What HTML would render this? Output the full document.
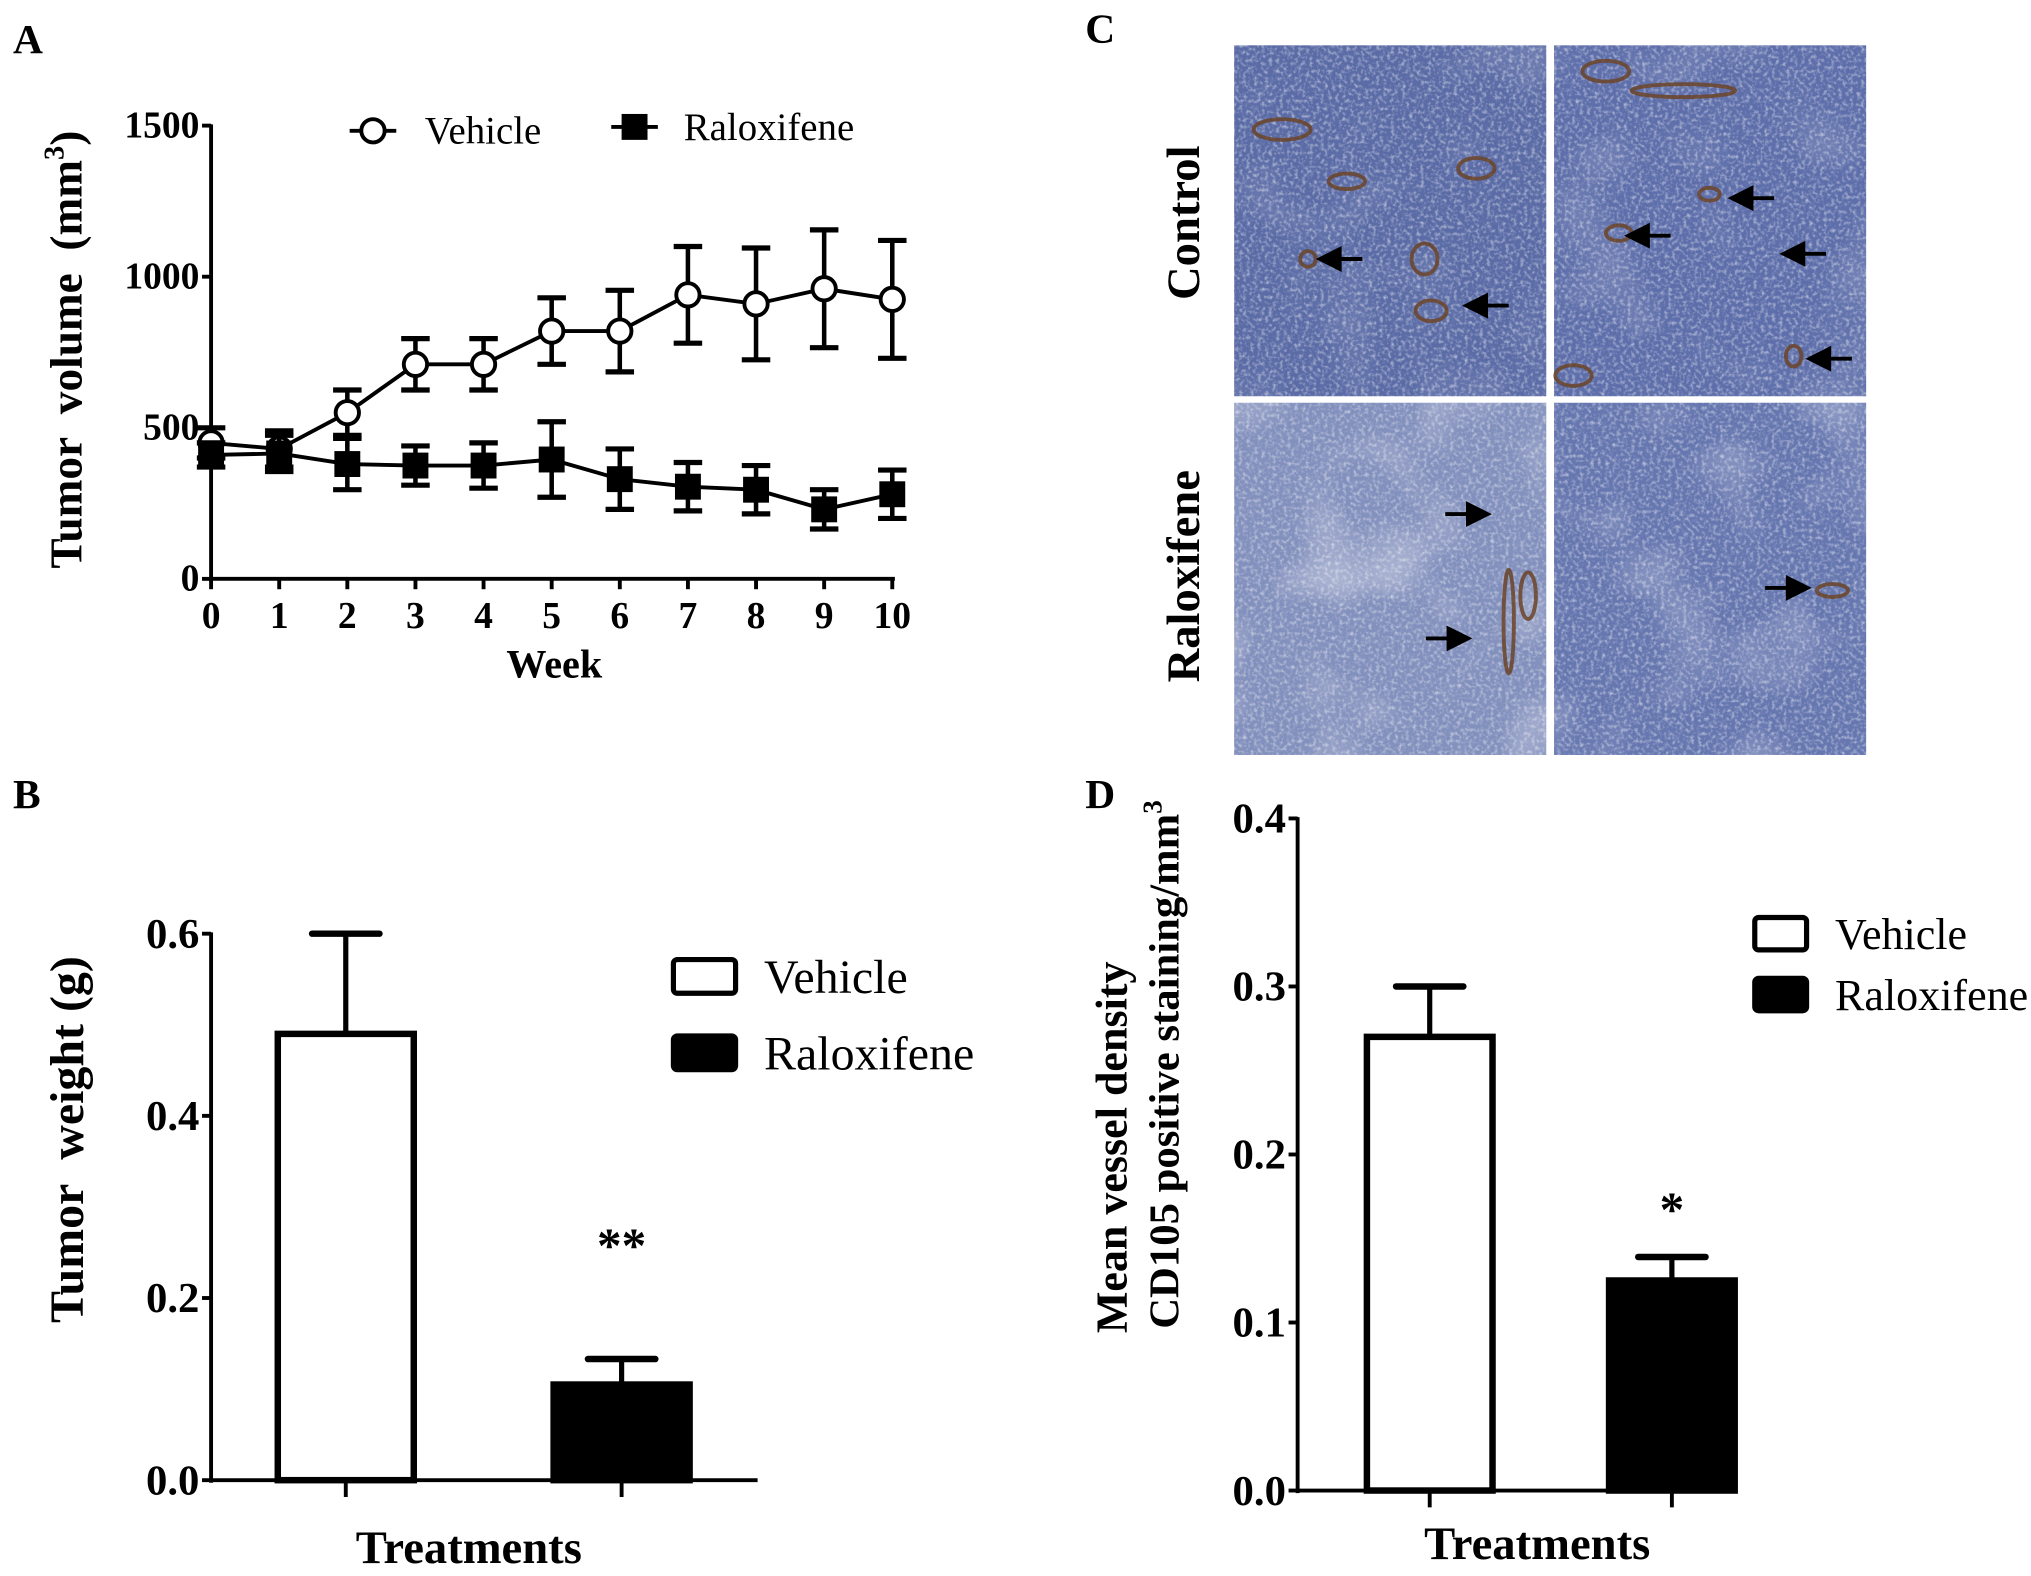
<!DOCTYPE html>
<html><head><meta charset="utf-8"><style>
html,body{margin:0;padding:0;background:#fff;}
svg{display:block;}
text{font-family:"Liberation Serif",serif;}
</style></head><body>
<svg id="fig" width="2031" height="1576" viewBox="0 0 1568.3 1217" preserveAspectRatio="none" xmlns="http://www.w3.org/2000/svg">
<defs>
<filter id="tex" x="0" y="0" width="100%" height="100%">
<feTurbulence type="fractalNoise" baseFrequency="0.35" numOctaves="2" seed="3" result="n"/>
<feColorMatrix in="n" type="matrix" values="0 0 0 0 0.9  0 0 0 0 0.9  0 0 0 0 0.94  2.2 0 0 0 -1.0"/>
</filter>
<filter id="blot" x="0" y="0" width="100%" height="100%">
<feTurbulence type="fractalNoise" baseFrequency="0.015" numOctaves="2" seed="8" result="n"/>
<feColorMatrix in="n" type="matrix" values="0 0 0 0 0.9  0 0 0 0 0.9  0 0 0 0 0.93  3 0 0 0 -1.5"/>
</filter>
</defs>

<text x="10" y="41" font-size="32" font-weight="bold">A</text>
<text x="10" y="624" font-size="32" font-weight="bold">B</text>
<text x="838" y="33" font-size="32" font-weight="bold">C</text>
<text x="838" y="624" font-size="32" font-weight="bold">D</text>

<g id="panelA"></g>
<g id="panelB"></g>
<g id="panelC"></g>
<g id="panelD"></g>
</svg>
<script>
const weeks = [0,1,2,3,4,5,6,7,8,9,10];
const vehicleVol = [450,430,550,710,710,820,820,940,910,960,925];
const vehicleErr = [50,60,75,85,85,110,135,160,185,195,195];
const raloxVol = [410,415,380,375,375,395,330,305,295,230,280];
const raloxErr = [40,60,85,65,75,125,100,80,80,65,80];
const aYTicks = [0,500,1000,1500];

const bCategories = ["Vehicle","Raloxifene"];
const bValues = [0.49,0.105];
const bErrors = [0.11,0.028];
const bYTicks = ["0.0","0.2","0.4","0.6"];

const dCategories = ["Vehicle","Raloxifene"];
const dValues = [0.27,0.125];
const dErrors = [0.03,0.014];
const dYTicks = ["0.0","0.1","0.2","0.3","0.4"];

const NS="http://www.w3.org/2000/svg";
function mk(parent,tag,attrs,txt){const e=document.createElementNS(NS,tag);for(const k in attrs)e.setAttribute(k,attrs[k]);if(txt!==undefined)e.textContent=txt;parent.appendChild(e);return e;}

(function(){
 const g=document.getElementById('panelA');
 const x0=163,x1=689,y0=447,y1=97;
 const xs=w=>x0+(x1-x0)*w/10;
 const ys=v=>y0-(y0-y1)*v/1500;
 let e;
 e=mk(g,'line',{x1:x0,y1:y1-1,x2:x0,y2:y0+2,stroke:'#000','stroke-width':3});
 
 e=mk(g,'line',{x1:x0-1,y1:y0,x2:x1+2,y2:y0,stroke:'#000','stroke-width':3});
 
 aYTicks.forEach(t=>{
  mk(g,'line',{x1:x0-7,y1:ys(t),x2:x0,y2:ys(t),stroke:'#000','stroke-width':3});
  e=mk(g,'text',{x:x0-9,y:ys(t)+9,'font-size':29,'font-weight':'bold','text-anchor':'end'},String(t));
  
 });
 weeks.forEach(w=>{
  mk(g,'line',{x1:xs(w),y1:y0,x2:xs(w),y2:y0+8,stroke:'#000','stroke-width':3});
  e=mk(g,'text',{x:xs(w),y:y0+38,'font-size':29,'font-weight':'bold','text-anchor':'middle'},String(w));
  
 });
 e=mk(g,'text',{x:428,y:523,'font-size':31,'font-weight':'bold','text-anchor':'middle'},'Week');
 
 e=mk(g,'text',{x:0,y:0,'font-size':35,'font-weight':'bold','text-anchor':'middle',transform:'translate(63,270) rotate(-90)'});
 
 e.innerHTML='Tumor&#160; volume&#160; (mm<tspan dy="-14" font-size="22">3</tspan><tspan dy="14">)</tspan>';
 function series(vals,errs,name,filled){
  const sg=mk(g,'g',{});
  
  mk(sg,'polyline',{points:weeks.map((w,i)=>xs(w)+','+ys(vals[i])).join(' '),fill:'none',stroke:'#000','stroke-width':3});
  weeks.forEach((w,i)=>{
   const x=xs(w),yt=ys(vals[i]+errs[i]),yb=ys(vals[i]-errs[i]);
   mk(sg,'line',{x1:x,y1:yt,x2:x,y2:yb,stroke:'#000','stroke-width':3.5});
   mk(sg,'line',{x1:x-11,y1:yt,x2:x+11,y2:yt,stroke:'#000','stroke-width':4});
   mk(sg,'line',{x1:x-11,y1:yb,x2:x+11,y2:yb,stroke:'#000','stroke-width':4});
   let m;
   if(filled){m=mk(sg,'rect',{x:x-10,y:ys(vals[i])-10,width:20,height:20,fill:'#000'});}
   else{m=mk(sg,'circle',{cx:x,cy:ys(vals[i]),r:9,fill:'#fff',stroke:'#000','stroke-width':3});}
   
  });
 }
 series(vehicleVol,vehicleErr,'vehicle-series',false);
 series(raloxVol,raloxErr,'raloxifene-series',true);
 const lg=mk(g,'g',{});
 mk(lg,'line',{x1:270,y1:101,x2:306,y2:101,stroke:'#000','stroke-width':3});
 mk(lg,'circle',{cx:288,cy:101,r:9,fill:'#fff',stroke:'#000','stroke-width':3});
 mk(lg,'text',{x:328,y:111,'font-size':30},'Vehicle');
 mk(lg,'line',{x1:472,y1:98,x2:508,y2:98,stroke:'#000','stroke-width':3});
 mk(lg,'rect',{x:480,y:88,width:20,height:20,fill:'#000'});
 mk(lg,'text',{x:528,y:108,'font-size':30},'Raloxifene');
})();

function barChart(id,cfg,cats,vals,errs,ticks,pfx){
 const g=document.getElementById(id);
 const ys=v=>cfg.y0-(cfg.y0-cfg.yTop)*v/cfg.vmax;
 let e;
 e=mk(g,'line',{x1:cfg.x0,y1:cfg.yTop-1,x2:cfg.x0,y2:cfg.y0+2,stroke:'#000','stroke-width':3});
 
 e=mk(g,'line',{x1:cfg.x0-1,y1:cfg.y0,x2:cfg.xEnd,y2:cfg.y0,stroke:'#000','stroke-width':3});
 
 ticks.forEach(t=>{
  const y=ys(parseFloat(t));
  mk(g,'line',{x1:cfg.x0-7,y1:y,x2:cfg.x0,y2:y,stroke:'#000','stroke-width':3});
  e=mk(g,'text',{x:cfg.x0-9,y:y+11,'font-size':33,'font-weight':'bold','text-anchor':'end'},t);
  
 });
 cats.forEach((c,i)=>{
  const cx=cfg.centers[i],w=cfg.bw,v=vals[i];
  mk(g,'line',{x1:cx,y1:cfg.y0,x2:cx,y2:cfg.y0+13,stroke:'#000','stroke-width':3});
  const yt=ys(v+errs[i]);
  e=mk(g,'line',{x1:cx,y1:ys(v),x2:cx,y2:yt,stroke:'#000','stroke-width':4});
  
  mk(g,'line',{x1:cx-26,y1:yt,x2:cx+26,y2:yt,stroke:'#000','stroke-width':5,'stroke-linecap':'round'});
  e=mk(g,'rect',{x:cx-w/2,y:ys(v),width:w,height:cfg.y0-ys(v),fill:i===0?'#fff':'#000',stroke:'#000','stroke-width':5});
  
 });
 e=mk(g,'text',{x:cfg.centers[1]+cfg.starDx,y:ys(vals[1]+errs[1])-cfg.starGap,'font-size':38,'font-weight':'bold','text-anchor':'middle'},cfg.star);
 
 e=mk(g,'text',{x:cfg.titleX,y:cfg.titleY,'font-size':36,'font-weight':'bold','text-anchor':'middle'},'Treatments');
 
 const lg=mk(g,'g',{});
 cats.forEach((c,i)=>{
  const ly=cfg.legY+i*cfg.legDy;
  mk(lg,'rect',{x:cfg.legX,y:ly-cfg.boxH/2,width:cfg.boxW,height:cfg.boxH,rx:3,fill:i===0?'#fff':'#000',stroke:'#000','stroke-width':4});
  const t=mk(lg,'text',{x:cfg.legX+cfg.boxW+22,y:ly+cfg.legFs*0.35,'font-size':cfg.legFs},c);
  
 });
}
barChart('panelB',{x0:163,y0:1143,yTop:721,vmax:0.6,xEnd:585,centers:[267,480],bw:105,star:'**',starDx:0,starGap:75,
 titleX:362,titleY:1207,legX:520,legY:754,legDy:59,boxW:48,boxH:26,legFs:37},bCategories,bValues,bErrors,bYTicks,'b');
(function(){const g=document.getElementById('panelB');const e=mk(g,'text',{x:0,y:0,'font-size':37,'font-weight':'bold','text-anchor':'middle',transform:'translate(64,880) rotate(-90)'},'Tumor\u00a0 weight (g)');
 })();

barChart('panelD',{x0:1002,y0:1151,yTop:632,vmax:0.4,xEnd:1310,centers:[1104,1291],bw:97,star:'*',starDx:0,starGap:24,
 titleX:1187,titleY:1204,legX:1355,legY:721,legDy:47,boxW:40,boxH:25,legFs:34},dCategories,dValues,dErrors,dYTicks,'d');
(function(){const g=document.getElementById('panelD');
 let e=mk(g,'text',{x:0,y:0,'font-size':34,'font-weight':'bold','text-anchor':'middle',transform:'translate(870,886) rotate(-90)'},'Mean vessel density');
 
 e=mk(g,'text',{x:0,y:0,'font-size':33,'font-weight':'bold','text-anchor':'middle',transform:'translate(910,822) rotate(-90)'});
 e.innerHTML='CD105 positive staining/mm<tspan dy="-13" font-size="21">3</tspan>';
 })();

(function(){
 const g=document.getElementById('panelC');
 const tiles=[
  {x:953,y:35,base:'#5a6ba6',name:'control-image-1',light:0.15,blobs:[[990,100,22,8],[1040,140,14,6],[1100,200,10,12],[1105,240,12,8],[1140,130,14,8],[1010,200,6,6]],arrows:[[1020,200,'l'],[1133,236,'l']]},
  {x:1200,y:35,base:'#5d6eaa',name:'control-image-2',light:0.15,blobs:[[1240,55,18,8],[1300,70,40,5],[1250,180,10,6],[1320,150,8,5],[1215,290,14,8],[1385,275,6,8]],arrows:[[1338,153,'l'],[1258,182,'l'],[1378,196,'l'],[1398,277,'l']]},
  {x:953,y:311,base:'#8290bd',name:'raloxifene-image-1',light:0.35,blobs:[[1165,480,4,40],[1180,460,6,18]],arrows:[[1148,397,'r'],[1133,493,'r']]},
  {x:1200,y:311,base:'#6677b0',name:'raloxifene-image-2',light:0.25,blobs:[[1415,456,12,5]],arrows:[[1395,454,'r']]}
 ];
 const labels=[['Control',172],['Raloxifene',445]];
 labels.forEach(l=>{const e=mk(g,'text',{x:0,y:0,'font-size':36,'font-weight':'bold','text-anchor':'middle',transform:'translate(926,'+l[1]+') rotate(-90)'},l[0]);
  });
 tiles.forEach(t=>{
  const tg=mk(g,'g',{});
  const W=241,H=t.y<100?271:272;
  mk(tg,'rect',{x:t.x,y:t.y,width:W,height:H,fill:t.base});
  mk(tg,'rect',{x:t.x,y:t.y,width:W,height:H,filter:'url(#blot)',opacity:t.light});
  mk(tg,'rect',{x:t.x,y:t.y,width:W,height:H,filter:'url(#tex)',opacity:0.6});
  t.blobs.forEach(b=>mk(tg,'ellipse',{cx:b[0],cy:b[1],rx:b[2],ry:b[3],fill:'none',stroke:'#6b4428','stroke-width':3,opacity:0.85}));
  t.arrows.forEach(a=>{
   const [x,y,d]=a;
   let e;
   if(d==='l'){mk(tg,'line',{x1:x,y1:y,x2:x+32,y2:y,stroke:'#000','stroke-width':3});
    e=mk(tg,'polygon',{points:(x-4)+','+y+' '+(x+16)+','+(y-10)+' '+(x+16)+','+(y+10),fill:'#000'});}
   else{mk(tg,'line',{x1:x-32,y1:y,x2:x,y2:y,stroke:'#000','stroke-width':3});
    e=mk(tg,'polygon',{points:(x+4)+','+y+' '+(x-16)+','+(y-10)+' '+(x-16)+','+(y+10),fill:'#000'});}
   
  });
 });
})();
</script>
</body></html>
